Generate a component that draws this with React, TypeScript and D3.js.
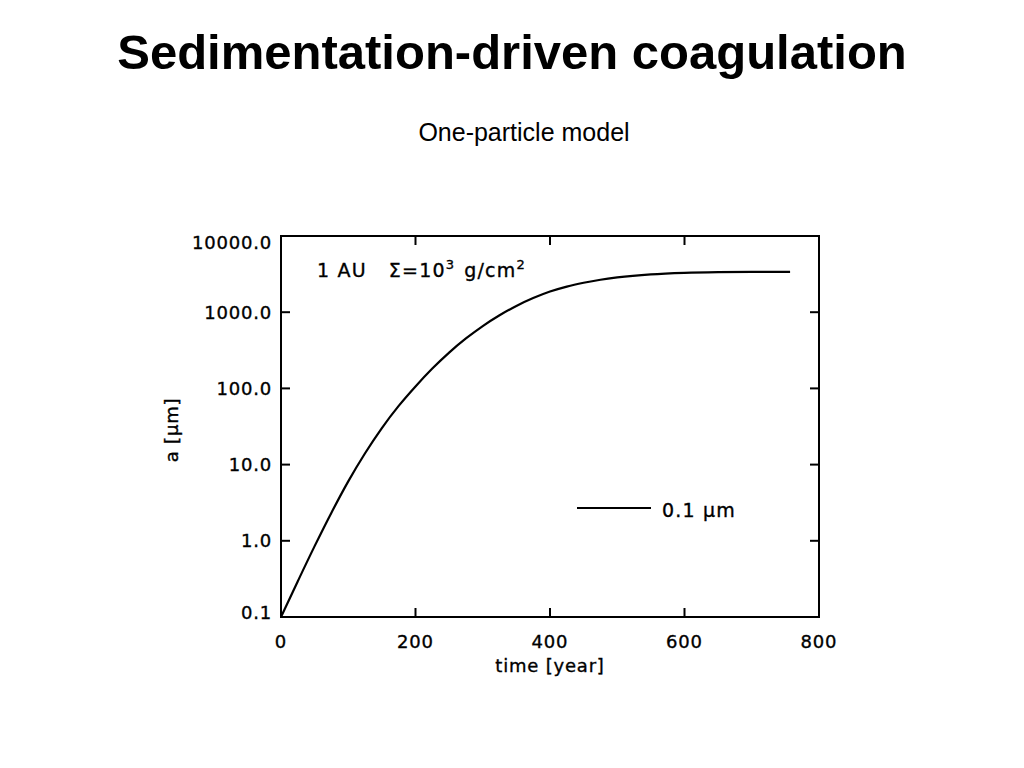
import React from "react";
import * as d3 from "d3";

const times = [0, 25, 50, 75, 100, 125, 150, 175, 200, 225, 250, 275, 300, 325, 350, 375, 400, 425, 450, 475, 500, 550, 600, 650, 700, 757];
const sizes = [0.1, 0.295, 0.851, 2.34, 6.03, 14.1, 30.2, 58.9, 106, 182, 295, 452, 658, 912, 1208, 1531, 1866, 2168, 2432, 2667, 2858, 3133, 3281, 3350, 3373, 3381];
const xTicks = [0, 200, 400, 600, 800];
const yTicks = [0.1, 1, 10, 100, 1000, 10000];
const yTickLabels = ["0.1", "1.0", "10.0", "100.0", "1000.0", "10000.0"];

const W = 1024;
const H = 768;
const left = 281, right = 819, top = 236, bottom = 617;
const font = "DejaVu Sans";

export default function App() {
  const x = d3.scaleLinear().domain([0, 800]).range([left, right]);
  const y = d3.scaleLog().domain([0.1, 10000]).range([bottom, top]);
  const line = d3
    .line<number>()
    .x((_, i) => x(times[i]))
    .y((d) => y(d))
    .curve(d3.curveMonotoneX);
  const tickLen = 9;
  const txt = { fontFamily: font, fontSize: 18, letterSpacing: 0.8, fill: "#000", stroke: "#000", strokeWidth: 0.35 };
  return (
    <svg width={W} height={H} style={{ position: "absolute", left: 0, top: 0, background: "#fff" }}>
      <text x={512} y={69} textAnchor="middle" fontFamily="Liberation Sans" fontWeight="bold" fontSize={49} fill="#000">
        Sedimentation-driven coagulation
      </text>
      <text x={524} y={141} textAnchor="middle" fontFamily="Liberation Sans" fontSize={25} fill="#000">
        One-particle model
      </text>
      <rect x={left} y={top} width={right - left} height={bottom - top} fill="none" stroke="#000" strokeWidth={2} />
      {xTicks.map((t) => (
        <g key={"x" + t}>
          <line x1={x(t)} x2={x(t)} y1={bottom} y2={bottom - tickLen} stroke="#000" strokeWidth={2} />
          <line x1={x(t)} x2={x(t)} y1={top} y2={top + tickLen} stroke="#000" strokeWidth={2} />
          <text x={x(t)} y={648} textAnchor="middle" {...txt}>
            {t}
          </text>
        </g>
      ))}
      {yTicks.map((v, i) => {
        let ly = y(v) + 6.5;
        if (i === 0) ly = y(v) + 2;
        if (i === yTicks.length - 1) ly = y(v) + 13;
        return (
          <g key={"y" + v}>
            <line x1={left} x2={left + tickLen} y1={y(v)} y2={y(v)} stroke="#000" strokeWidth={2} />
            <line x1={right} x2={right - tickLen} y1={y(v)} y2={y(v)} stroke="#000" strokeWidth={2} />
            <text x={272} y={ly} textAnchor="end" {...txt}>
              {yTickLabels[i]}
            </text>
          </g>
        );
      })}
      <path d={line(sizes) || ""} fill="none" stroke="#000" strokeWidth={2.2} />
      <text x={550} y={672} textAnchor="middle" {...txt}>
        time [year]
      </text>
      <text transform="translate(178,430) rotate(-90)" textAnchor="middle" {...txt}>
        a [μm]
      </text>
      <text x={317} y={277} {...txt} fontSize={19} letterSpacing={1.2}>
        <tspan>1 AU</tspan>
        <tspan dx={22}>Σ=10</tspan>
        <tspan dy={-8} fontSize={13}>3</tspan>
        <tspan dy={8} dx={9}>g/cm</tspan>
        <tspan dy={-8} fontSize={13}>2</tspan>
      </text>
      <line x1={577} x2={651} y1={508} y2={508} stroke="#000" strokeWidth={2} />
      <text x={662} y={517} {...txt} fontSize={19} letterSpacing={1.2}>
        0.1 μm
      </text>
    </svg>
  );
}
